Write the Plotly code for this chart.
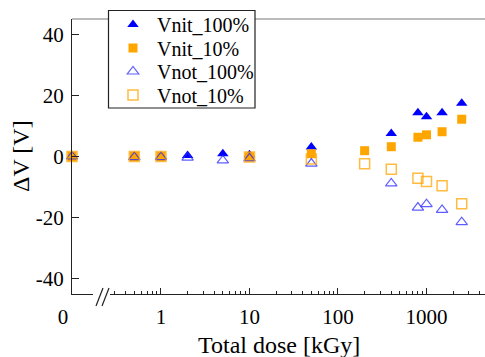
import plotly.graph_objects as go

# ---- data ----
dose_100 = [0, 0.5, 1, 2, 5, 10, 50, 400, 800, 1000, 1500, 2500]
vnit_100 = [0, 0.1, 0.1, 0.3, 0.9, 0.6, 3.1, 7.5, 14.3, 13.0, 14.3, 17.4]
vnot_100 = [0, -0.2, -0.2, -0.4, -1.3, -0.6, -2.3, -8.8, -16.7, -15.6, -17.5, -21.5]

dose_10 = [0, 0.5, 1, 10, 50, 200, 400, 800, 1000, 1500, 2500]
vnit_10 = [0, 0, 0, -0.1, 0.9, 1.9, 3.2, 6.3, 7.1, 8.1, 12.2]
vnot_10 = [0, 0, 0, -0.2, -0.8, -2.4, -4.2, -7.1, -8.2, -9.6, -15.5]

ytick_vals = [-40, -20, 0, 20, 40]
ytick_text = ["-40", "-20", "0", "20", "40"]
xtick_vals = [1, 10, 100, 1000]
xtick_text = ["1", "10", "100", "1000"]

FONT = "Liberation Serif, Times New Roman, serif"

# plot area in pixels
W, H = 485, 357
L, R, T, B = 72, 0, 19, 63
pw = W - L - R
ph = H - T - B

def px2paper_x(px):
    return (px - L) / pw

def px2paper_y(py):
    return (H - B - py) / ph

series = [
    ("Vnit_100%", dose_100, vnit_100, "triangle-up", "#0000ff", 10, 0),
    ("Vnit_10%", dose_10, vnit_10, "square", "#ffa500", 9, 0),
    ("Vnot_100%", dose_100, vnot_100, "triangle-up-open", "rgba(40,40,255,0.75)", 10, 1.2),
    ("Vnot_10%", dose_10, vnot_10, "square-open", "rgba(255,165,0,0.75)", 10, 1.5),
]
legend_ids = ["legend", "legend2", "legend3", "legend4"]
legend_rows_px = [24.5, 48, 71.5, 95]

fig = go.Figure()
for (name, xs, ys, sym, col, size, lw), lid in zip(series, legend_ids):
    x0 = [x for x in xs if x == 0]
    y0 = [y for x, y in zip(xs, ys) if x == 0]
    xl = [x for x in xs if x > 0]
    yl = [y for x, y in zip(xs, ys) if x > 0]
    mk = dict(symbol=sym, color=col, size=size, line=dict(width=lw, color=col))
    fig.add_trace(go.Scatter(x=xl, y=yl, mode="markers", name=name, legendgroup=name,
                             legend=lid, marker=mk, xaxis="x2", yaxis="y", cliponaxis=False))
    fig.add_trace(go.Scatter(x=x0, y=y0, mode="markers", name=name, legendgroup=name,
                             legend=lid, showlegend=False, marker=mk, xaxis="x", yaxis="y",
                             cliponaxis=False))

tickfont = dict(family=FONT, size=21, color="black")

layout_legends = {}
for lid, row in zip(legend_ids, legend_rows_px):
    layout_legends[lid] = dict(
        x=px2paper_x(109), y=px2paper_y(row), xanchor="left", yanchor="middle",
        bgcolor="rgba(0,0,0,0)", borderwidth=0,
        font=dict(family=FONT, size=20, color="black"),
        itemwidth=38, tracegroupgap=0)

fig.update_layout(
    width=W, height=H,
    margin=dict(l=L, r=R, t=T, b=B),
    plot_bgcolor="white", paper_bgcolor="white",
    font=dict(family=FONT, color="black"),
    showlegend=True,
    xaxis=dict(domain=[0, px2paper_x(93)], range=[0, 1], type="linear",
               tickmode="array", tickvals=[0], ticktext=["0"],
               ticks="", showline=True, linecolor="#222", linewidth=1.2,
               showgrid=False, zeroline=False, tickfont=tickfont,
               ticklabelshift=-9, ticklabelstandoff=4, anchor="y"),
    xaxis2=dict(domain=[px2paper_x(110), 1], type="log", range=[-0.576, 3.661],
                tickmode="array", tickvals=xtick_vals, ticktext=xtick_text,
                ticks="inside", ticklen=6, tickcolor="#222",
                minor=dict(tickvals=[m * 10 ** e for e in range(-1, 4) for m in range(2, 10)],
                           ticks="inside", ticklen=3, tickcolor="#222"),
                showline=True, linecolor="#222", linewidth=1.2,
                showgrid=False, zeroline=False, tickfont=tickfont,
                ticklabelstandoff=4, anchor="y"),
    yaxis=dict(range=[-45, 45], tickmode="array", tickvals=ytick_vals, ticktext=ytick_text,
               ticks="inside", ticklen=7, tickcolor="#222",
               showline=True, linecolor="#222", linewidth=1.2,
               showgrid=False, zeroline=False, tickfont=tickfont,
               ticklabelstandoff=3, anchor="x"),
    **layout_legends,
)

# top frame line
fig.add_shape(type="line", xref="paper", yref="paper", x0=0, x1=1.01, y0=1, y1=1,
              line=dict(color="#777", width=1.2))
# legend box
fig.add_shape(type="rect", xref="paper", yref="paper",
              x0=px2paper_x(108.5), x1=px2paper_x(255), y0=px2paper_y(10.5), y1=px2paper_y(108),
              fillcolor="white", line=dict(color="#222", width=1.2))
# axis break marks
for a, b in [(96, 103), (102, 109)]:
    fig.add_shape(type="line", xref="paper", yref="paper",
                  x0=px2paper_x(a), y0=px2paper_y(306), x1=px2paper_x(b), y1=px2paper_y(288),
                  line=dict(color="#222", width=1.2))

fig.add_annotation(text="Total dose [kGy]", xref="paper", yref="paper",
                   x=0.5, y=px2paper_y(345), xanchor="center", yanchor="middle",
                   showarrow=False, font=dict(family=FONT, size=24, color="black"))
fig.add_annotation(text="ΔV [V]", xref="paper", yref="paper",
                   x=px2paper_x(21), y=px2paper_y(156), xanchor="center", yanchor="middle",
                   textangle=-90, showarrow=False,
                   font=dict(family=FONT, size=24, color="black"))

fig.write_html("out.html")
